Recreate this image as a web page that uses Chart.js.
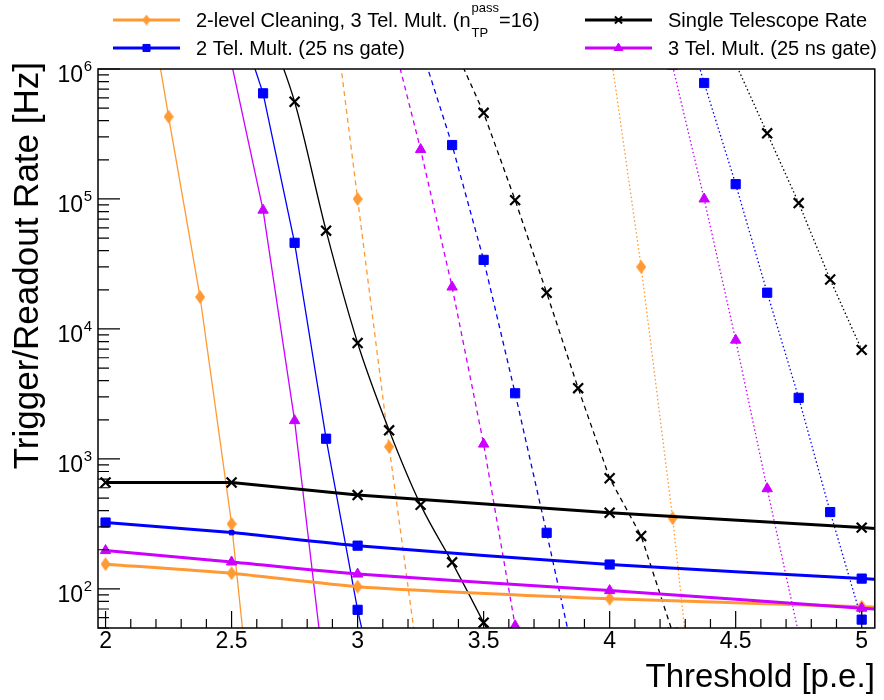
<!DOCTYPE html>
<html>
<head>
<meta charset="utf-8">
<script src="https://cdn.jsdelivr.net/npm/chart.js@4.4.1/dist/chart.umd.min.js"></script>
<style>
  html, body { margin: 0; padding: 0; background: #fff; }
  #wrap { width: 884px; height: 700px; }
</style>
</head>
<body>
<div id="wrap"><canvas id="rateChart"></canvas></div>
<script>
// trigger rates vs threshold, steep curves (Hz)
const cleanSolidX = [2.125, 2.25, 2.375, 2.5, 2.625];
const cleanSolidY = [1.2e7, 4.3e5, 1.76e4, 316, 1.5];
const cleanDashX = [2.875, 3.0, 3.125, 3.25];
const cleanDashY = [8.5e6, 1.0e5, 1240, 20];
const cleanDotX = [4.0, 4.125, 4.25, 4.375];
const cleanDotY = [1.5e6, 3.0e4, 350, 2];

const tel2SolidX = [2.5, 2.625, 2.75, 2.875, 3.0, 3.125];
const tel2SolidY = [3.5e6, 6.5e5, 4.6e4, 1430, 69, 5.6];
const tel2DashX = [3.25, 3.375, 3.5, 3.625, 3.75, 3.875];
const tel2DashY = [1.5e6, 2.6e5, 3.4e4, 3200, 270, 21];
const tel2DotX = [4.25, 4.375, 4.5, 4.625, 4.75, 4.875, 5.0];
const tel2DotY = [5e6, 7.8e5, 1.3e5, 1.9e4, 2950, 390, 58];

const singleSolidX = [2.625, 2.75, 2.875, 3.0, 3.125, 3.25, 3.375, 3.5, 3.625];
const singleSolidY = [2.6e6, 5.6e5, 5.7e4, 7800, 1660, 443, 160, 55, 18];
const singleDashX = [3.375, 3.5, 3.625, 3.75, 3.875, 4.0, 4.125, 4.25];
const singleDashY = [1.6e6, 4.6e5, 9.8e4, 1.9e4, 3500, 710, 255, 46];
const singleDotX = [4.5, 4.625, 4.75, 4.875, 5.0];
const singleDotY = [1.1e6, 3.2e5, 9.3e4, 2.4e4, 6900];

const tel3SolidX = [2.5, 2.625, 2.75, 2.875];
const tel3SolidY = [1.1e6, 8.2e4, 1970, 17];
const tel3DashX = [3.125, 3.25, 3.375, 3.5, 3.625, 3.75];
const tel3DashY = [2.2e6, 2.4e5, 2.1e4, 1300, 52, 2];
const tel3DotX = [4.25, 4.375, 4.5, 4.625, 4.75];
const tel3DotY = [1.05e6, 1.0e5, 8200, 590, 45];

// readout rates (flat curves)
const readoutX = [2, 2.5, 3, 4, 5, 5.1];
const cleanReadout = [155, 132, 104, 84, 73, 72];
const tel2Readout = [324, 271, 215, 154, 120, 117];
const tel3Readout = [197, 161, 130, 97, 71, 69];
const singleReadout = [658, 658, 527, 385, 296, 287];

const xTickLabels = [2, 2.5, 3, 3.5, 4, 4.5, 5];
const yDecades = [2, 3, 4, 5, 6];

const cOrange = '#ff9933';
const cBlue = '#0000ff';
const cBlack = '#000000';
const cViolet = '#cc00ff';
const FONT = '"Liberation Sans", Arial, Helvetica, sans-serif';

// ROOT style diamond is taller than wide
function makeDiamond(w, h) {
  const c = document.createElement('canvas');
  c.width = w;
  c.height = h;
  const g = c.getContext('2d');
  g.fillStyle = cOrange;
  g.beginPath();
  g.moveTo(w / 2, 0);
  g.lineTo(w, h / 2);
  g.lineTo(w / 2, h);
  g.lineTo(0, h / 2);
  g.closePath();
  g.fill();
  return c;
}
const diamond = makeDiamond(10, 14);
const diamondSmall = makeDiamond(8, 11);

const markerSize = { rect: 6.5, crossRot: 7, triangle: 6 };

function pts(xs, ys) {
  return xs.map((x, i) => ({ x: x, y: ys[i] }));
}

function steep(label, xs, ys, color, style, dash, smooth) {
  return {
    label: label,
    data: pts(xs, ys),
    borderColor: color,
    backgroundColor: color,
    borderWidth: 1.3,
    borderDash: dash,
    pointStyle: style,
    pointRadius: markerSize[style] || 6,
    pointBorderWidth: style === 'crossRot' ? 2.2 : 1,
    pointBorderColor: color,
    pointBackgroundColor: color,
    cubicInterpolationMode: smooth ? 'monotone' : 'default',
    tension: 0
  };
}

function readout(label, ys, color, style, radii, tension) {
  return {
    label: label,
    data: pts(readoutX, ys),
    borderColor: color,
    backgroundColor: color,
    borderWidth: 3,
    pointStyle: style,
    pointRadius: radii,
    pointBorderWidth: style === 'crossRot' ? 2.2 : 1,
    pointBorderColor: color,
    pointBackgroundColor: color,
    tension: tension
  };
}

const full = (r) => [r, r, r, r, r, 0];

const datasets = [
  readout('single readout', singleReadout, cBlack, 'crossRot', full(7), 0),
  readout('3 tel readout', tel3Readout, cViolet, 'triangle', full(6), 0.2),
  readout('2 tel readout', tel2Readout, cBlue, 'rect', [6.5, 3.2, 6.5, 6.5, 6.5, 0], 0.2),
  readout('clean readout', cleanReadout, cOrange, diamond, full(6), 0.2),

  steep('single solid', singleSolidX, singleSolidY, cBlack, 'crossRot', [], true),
  steep('single dashed', singleDashX, singleDashY, cBlack, 'crossRot', [5, 4]),
  steep('single dotted', singleDotX, singleDotY, cBlack, 'crossRot', [1.5, 2.5]),
  steep('2 tel solid', tel2SolidX, tel2SolidY, cBlue, 'rect', []),
  steep('2 tel dashed', tel2DashX, tel2DashY, cBlue, 'rect', [5, 4]),
  steep('2 tel dotted', tel2DotX, tel2DotY, cBlue, 'rect', [1.5, 2.5]),
  steep('3 tel solid', tel3SolidX, tel3SolidY, cViolet, 'triangle', []),
  steep('3 tel dashed', tel3DashX, tel3DashY, cViolet, 'triangle', [5, 4]),
  steep('3 tel dotted', tel3DotX, tel3DotY, cViolet, 'triangle', [1.5, 2.5]),
  steep('clean solid', cleanSolidX, cleanSolidY, cOrange, diamond, []),
  steep('clean dashed', cleanDashX, cleanDashY, cOrange, diamond, [5, 4]),
  steep('clean dotted', cleanDotX, cleanDotY, cOrange, diamond, [1.5, 2.5])
];

// legend entries, drawn as two columns
const legendItems = [
  { color: cOrange, style: diamondSmall, r: 5, text: '2-level Cleaning, 3 Tel. Mult. (n', sup: 'pass', sub: 'TP', tail: '=16)', col: 0, row: 0 },
  { color: cBlack, style: 'crossRot', r: 5, text: 'Single Telescope Rate', col: 1, row: 0 },
  { color: cBlue, style: 'rect', r: 5, text: '2 Tel. Mult. (25 ns gate)', col: 0, row: 1 },
  { color: cViolet, style: 'triangle', r: 5, text: '3 Tel. Mult. (25 ns gate)', col: 1, row: 1 }
];

function marker(ctx, style, r, x, y, color) {
  ctx.save();
  ctx.fillStyle = color;
  ctx.strokeStyle = color;
  ctx.lineWidth = style === 'crossRot' ? 2 : 1;
  Chart.helpers.drawPoint(ctx, { pointStyle: style, radius: r, borderWidth: ctx.lineWidth, rotation: 0 }, x, y);
  ctx.restore();
}

const rootFrame = {
  id: 'rootFrame',
  afterDraw(chart) {
    const ctx = chart.ctx;
    const a = chart.chartArea;
    const xs = chart.scales.x;
    const ys = chart.scales.y;
    ctx.save();

    // frame
    ctx.strokeStyle = '#000';
    ctx.lineWidth = 1.5;
    ctx.strokeRect(a.left, a.top, a.right - a.left, a.bottom - a.top);

    // x ticks, pointing inward
    ctx.lineWidth = 1.2;
    ctx.beginPath();
    for (let i = 20; i <= 50; i++) {
      const px = xs.getPixelForValue(i / 10);
      const len = i % 5 === 0 ? 17 : 9;
      ctx.moveTo(px, a.bottom);
      ctx.lineTo(px, a.bottom - len);
    }
    // y ticks, log
    for (let k = 1; k <= 6; k++) {
      for (let m = 1; m <= 9; m++) {
        const v = m * Math.pow(10, k);
        if (v < ys.min || v > ys.max) continue;
        const py = ys.getPixelForValue(v);
        const len = m === 1 ? 22 : 11;
        ctx.moveTo(a.left, py);
        ctx.lineTo(a.left + len, py);
      }
    }
    ctx.stroke();

    // y tick labels 10^k
    ctx.fillStyle = '#000';
    ctx.textAlign = 'right';
    ctx.textBaseline = 'alphabetic';
    for (const k of yDecades) {
      const py = ys.getPixelForValue(Math.pow(10, k));
      ctx.font = '15px ' + FONT;
      const ew = ctx.measureText(String(k)).width;
      ctx.fillText(String(k), 92, py + 2);
      ctx.font = '23px ' + FONT;
      ctx.fillText('10', 92 - ew - 0.5, py + 13);
    }

    // y axis title, rotated
    ctx.save();
    ctx.translate(28, 62);
    ctx.rotate(-Math.PI / 2);
    ctx.textAlign = 'right';
    ctx.textBaseline = 'middle';
    ctx.font = '35px ' + FONT;
    ctx.fillText('Trigger/Readout Rate [Hz]', 0, 0);
    ctx.restore();

    // legend
    ctx.textAlign = 'left';
    for (const it of legendItems) {
      const lx = it.col === 0 ? 113 : 585;
      const ly = it.row === 0 ? 20 : 48;
      ctx.strokeStyle = it.color;
      ctx.lineWidth = 3;
      ctx.beginPath();
      ctx.moveTo(lx, ly);
      ctx.lineTo(lx + 67, ly);
      ctx.stroke();
      marker(ctx, it.style, it.r, lx + 33.5, ly, it.color);

      ctx.fillStyle = '#000';
      ctx.font = '20px ' + FONT;
      const tx = lx + 83;
      ctx.fillText(it.text, tx, ly + 7);
      if (it.sup) {
        const w = ctx.measureText(it.text).width;
        ctx.font = '13px ' + FONT;
        ctx.fillText(it.sup, tx + w + 1, ly - 8);
        ctx.fillText(it.sub, tx + w + 1, ly + 17);
        const sw = ctx.measureText(it.sup).width;
        ctx.font = '20px ' + FONT;
        ctx.fillText(it.tail, tx + w + sw + 1, ly + 7);
      }
    }
    ctx.restore();
  }
};

new Chart(document.getElementById('rateChart'), {
  type: 'line',
  data: { datasets: datasets },
  options: {
    responsive: true,
    maintainAspectRatio: false,
    animation: false,
    layout: { padding: { top: 69, right: 9, left: 0, bottom: 0 } },
    plugins: {
      legend: { display: false },
      tooltip: { enabled: false }
    },
    scales: {
      x: {
        type: 'linear',
        min: 1.97,
        max: 5.052,
        afterFit: (s) => { s.height = 72; },
        afterBuildTicks: (s) => { s.ticks = xTickLabels.map(v => ({ value: v })); },
        grid: { display: false, drawTicks: false },
        border: { display: false },
        ticks: {
          autoSkip: false,
          maxRotation: 0,
          padding: 0,
          color: '#000',
          font: { family: FONT, size: 23 },
          callback: (v) => String(v)
        },
        title: {
          display: true,
          text: 'Threshold [p.e.]',
          align: 'end',
          color: '#000',
          font: { family: FONT, size: 33, lineHeight: 1 },
          padding: { top: 0, bottom: 6 }
        }
      },
      y: {
        type: 'logarithmic',
        min: 50,
        max: 1e6,
        afterFit: (s) => { s.width = 98; },
        grid: { display: false, drawTicks: false },
        border: { display: false },
        ticks: { display: false }
      }
    }
  },
  plugins: [rootFrame]
});
</script>
</body>
</html>
